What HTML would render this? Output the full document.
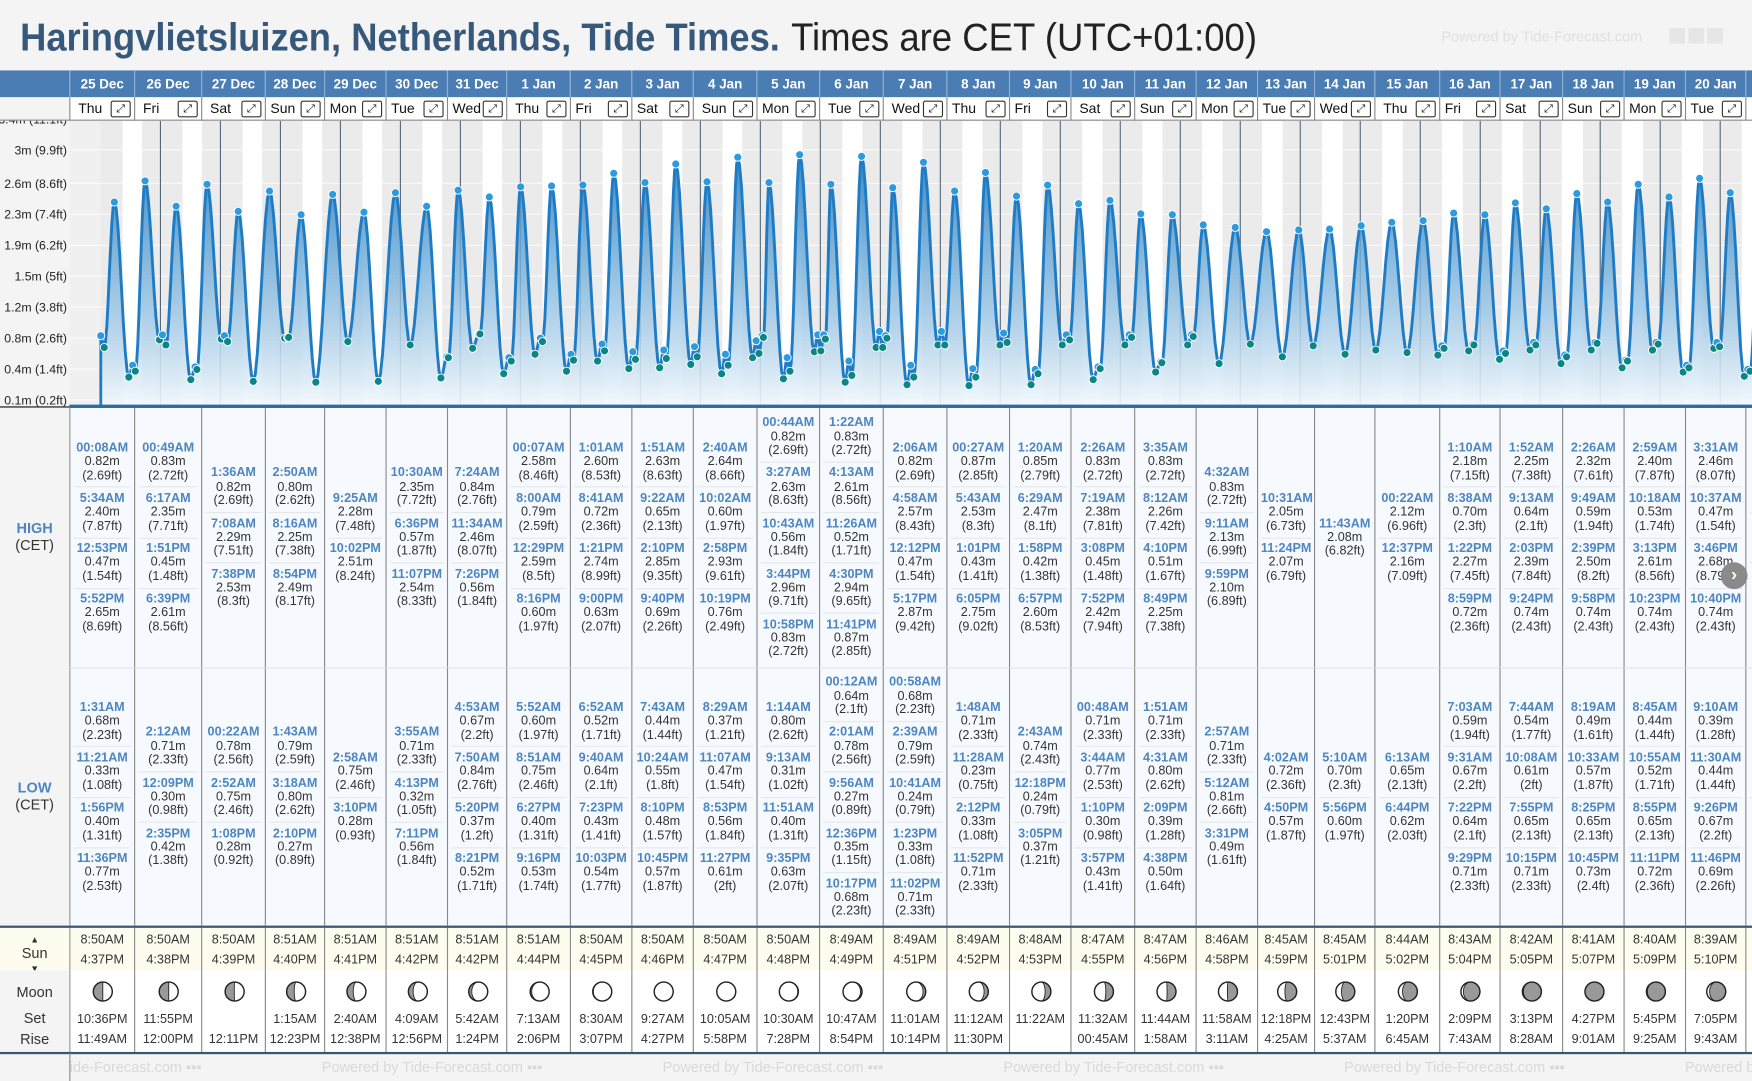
<!DOCTYPE html>
<html><head><meta charset="utf-8">
<style>
html,body{margin:0;padding:0;width:1752px;height:1081px;overflow:hidden;background:#f4f4f4;}
#frame{position:absolute;left:0;top:0;width:1568px;height:967px;transform-origin:0 0;transform:scale(1.117347,1.11789);background:#f4f4f4;overflow:hidden;font-family:"Liberation Sans",Arial,sans-serif;color:#333;}
.abs{position:absolute;}
.hdr{position:absolute;top:63px;height:24px;background:#4a7db3;color:#fff;font-weight:bold;font-size:12px;line-height:24px;text-align:center;box-sizing:border-box;border-left:1px solid #8fb0d3;}
.wd{position:absolute;top:87px;height:21px;background:#fff;font-size:12.5px;line-height:21px;box-sizing:border-box;border-left:1px solid #888;border-bottom:1px solid #888;color:#111;}
.exp{position:absolute;right:3px;top:3px;width:16px;height:13px;border:1px solid #333;border-radius:2px;font-size:10px;line-height:13px;text-align:center;font-family:"DejaVu Sans",sans-serif;background:#fff;}
.cell{position:absolute;box-sizing:border-box;border-left:1px solid #888;background:#f6fafe;display:flex;flex-direction:column;justify-content:center;align-items:center;}
.ent{text-align:center;font-size:11.3px;line-height:12.3px;padding:3.6px 0;width:90%;border-bottom:1px solid #e4e8ec;}
.ent:last-child{border-bottom:none;}
.tm{color:#4d86c2;font-weight:bold;}
.sun{position:absolute;top:830px;height:38px;box-sizing:border-box;border-left:1px solid #888;background:#fdfdef;font-size:11.3px;text-align:center;line-height:18px;padding-top:2px;}
.moon{position:absolute;top:868px;height:74px;box-sizing:border-box;border-left:1px solid #888;background:#fff;font-size:11.3px;text-align:center;}
.lbl{position:absolute;left:0;width:62px;text-align:center;font-size:13px;color:#333;}
.pw{position:absolute;top:947px;font-size:13px;color:#d9d9d9;white-space:nowrap;}
</style></head>
<body>
<div id="frame">
<svg class="abs" style="left:0;top:0" width="1568" height="62">
<text x="18" y="45" font-family="Liberation Sans, Arial, sans-serif" font-size="35" font-weight="bold" fill="#36587a" textLength="680" lengthAdjust="spacingAndGlyphs">Haringvlietsluizen, Netherlands, Tide Times.</text>
<text x="708" y="45" font-family="Liberation Sans, Arial, sans-serif" font-size="35" fill="#222" textLength="417" lengthAdjust="spacingAndGlyphs">Times are CET (UTC+01:00)</text>
<text x="1290" y="37" font-family="Liberation Sans, Arial, sans-serif" font-size="13" fill="#e0e0e0">Powered by Tide-Forecast.com</text>
<rect x="1494" y="25" width="14" height="14" fill="#e6e6e6"/><rect x="1511" y="25" width="14" height="14" fill="#e6e6e6"/><rect x="1528" y="25" width="14" height="14" fill="#e6e6e6"/>
</svg>
<div class="abs" style="left:0;top:63px;width:62px;height:24px;background:#4a7db3"></div>
<div class="abs" style="left:0;top:87px;width:62px;height:21px;background:#f4f4f4;border-bottom:1px solid #888;box-sizing:border-box"></div>
<svg id="chart" class="abs" style="left:0;top:108px" width="1568" height="257" viewBox="0 108 1568 257">
<defs><linearGradient id="ag" x1="0" y1="140" x2="0" y2="363" gradientUnits="userSpaceOnUse">
<stop offset="0" stop-color="#2f84c6" stop-opacity="0.95"/><stop offset="0.5" stop-color="#7fb6de" stop-opacity="0.8"/><stop offset="1" stop-color="#f2f8fd" stop-opacity="0.9"/></linearGradient>
<clipPath id="pc"><rect x="62" y="108" width="1506" height="257"/></clipPath></defs>
</svg>
<div id="tbl"></div>
</div>
<script>
// ---- data ----
const dayLabels=["25 Dec","26 Dec","27 Dec","28 Dec","29 Dec","30 Dec","31 Dec","1 Jan","2 Jan","3 Jan","4 Jan","5 Jan","6 Jan","7 Jan","8 Jan","9 Jan","10 Jan","11 Jan","12 Jan","13 Jan","14 Jan","15 Jan","16 Jan","17 Jan","18 Jan","19 Jan","20 Jan","21 Jan"];
const weekdays=["Thu","Fri","Sat","Sun","Mon","Tue","Wed","Thu","Fri","Sat","Sun","Mon","Tue","Wed","Thu","Fri","Sat","Sun","Mon","Tue","Wed","Thu","Fri","Sat","Sun","Mon","Tue","Wed"];
const highs=[
[0,"00:08AM",0.82,"2.69"],[0,"5:34AM",2.40,"7.87"],[0,"12:53PM",0.47,"1.54"],[0,"5:52PM",2.65,"8.69"],
[1,"00:49AM",0.83,"2.72"],[1,"6:17AM",2.35,"7.71"],[1,"1:51PM",0.45,"1.48"],[1,"6:39PM",2.61,"8.56"],
[2,"1:36AM",0.82,"2.69"],[2,"7:08AM",2.29,"7.51"],[2,"7:38PM",2.53,"8.3"],
[3,"2:50AM",0.80,"2.62"],[3,"8:16AM",2.25,"7.38"],[3,"8:54PM",2.49,"8.17"],
[4,"9:25AM",2.28,"7.48"],[4,"10:02PM",2.51,"8.24"],
[5,"10:30AM",2.35,"7.72"],[5,"6:36PM",0.57,"1.87"],[5,"11:07PM",2.54,"8.33"],
[6,"7:24AM",0.84,"2.76"],[6,"11:34AM",2.46,"8.07"],[6,"7:26PM",0.56,"1.84"],
[7,"00:07AM",2.58,"8.46"],[7,"8:00AM",0.79,"2.59"],[7,"12:29PM",2.59,"8.5"],[7,"8:16PM",0.60,"1.97"],
[8,"1:01AM",2.60,"8.53"],[8,"8:41AM",0.72,"2.36"],[8,"1:21PM",2.74,"8.99"],[8,"9:00PM",0.63,"2.07"],
[9,"1:51AM",2.63,"8.63"],[9,"9:22AM",0.65,"2.13"],[9,"2:10PM",2.85,"9.35"],[9,"9:40PM",0.69,"2.26"],
[10,"2:40AM",2.64,"8.66"],[10,"10:02AM",0.60,"1.97"],[10,"2:58PM",2.93,"9.61"],[10,"10:19PM",0.76,"2.49"],
[11,"00:44AM",0.82,"2.69"],[11,"3:27AM",2.63,"8.63"],[11,"10:43AM",0.56,"1.84"],[11,"3:44PM",2.96,"9.71"],[11,"10:58PM",0.83,"2.72"],
[12,"1:22AM",0.83,"2.72"],[12,"4:13AM",2.61,"8.56"],[12,"11:26AM",0.52,"1.71"],[12,"4:30PM",2.94,"9.65"],[12,"11:41PM",0.87,"2.85"],
[13,"2:06AM",0.82,"2.69"],[13,"4:58AM",2.57,"8.43"],[13,"12:12PM",0.47,"1.54"],[13,"5:17PM",2.87,"9.42"],
[14,"00:27AM",0.87,"2.85"],[14,"5:43AM",2.53,"8.3"],[14,"1:01PM",0.43,"1.41"],[14,"6:05PM",2.75,"9.02"],
[15,"1:20AM",0.85,"2.79"],[15,"6:29AM",2.47,"8.1"],[15,"1:58PM",0.42,"1.38"],[15,"6:57PM",2.60,"8.53"],
[16,"2:26AM",0.83,"2.72"],[16,"7:19AM",2.38,"7.81"],[16,"3:08PM",0.45,"1.48"],[16,"7:52PM",2.42,"7.94"],
[17,"3:35AM",0.83,"2.72"],[17,"8:12AM",2.26,"7.42"],[17,"4:10PM",0.51,"1.67"],[17,"8:49PM",2.25,"7.38"],
[18,"4:32AM",0.83,"2.72"],[18,"9:11AM",2.13,"6.99"],[18,"9:59PM",2.10,"6.89"],
[19,"10:31AM",2.05,"6.73"],[19,"11:24PM",2.07,"6.79"],
[20,"11:43AM",2.08,"6.82"],
[21,"00:22AM",2.12,"6.96"],[21,"12:37PM",2.16,"7.09"],
[22,"1:10AM",2.18,"7.15"],[22,"8:38AM",0.70,"2.3"],[22,"1:22PM",2.27,"7.45"],[22,"8:59PM",0.72,"2.36"],
[23,"1:52AM",2.25,"7.38"],[23,"9:13AM",0.64,"2.1"],[23,"2:03PM",2.39,"7.84"],[23,"9:24PM",0.74,"2.43"],
[24,"2:26AM",2.32,"7.61"],[24,"9:49AM",0.59,"1.94"],[24,"2:39PM",2.50,"8.2"],[24,"9:58PM",0.74,"2.43"],
[25,"2:59AM",2.40,"7.87"],[25,"10:18AM",0.53,"1.74"],[25,"3:13PM",2.61,"8.56"],[25,"10:23PM",0.74,"2.43"],
[26,"3:31AM",2.46,"8.07"],[26,"10:37AM",0.47,"1.54"],[26,"3:46PM",2.68,"8.79"],[26,"10:40PM",0.74,"2.43"],
[27,"4:02AM",2.51,"8.23"],[27,"11:02AM",0.42,"1.38"],[27,"4:20PM",2.72,"8.92"]
];
const lows=[
[0,"1:31AM",0.68,"2.23"],[0,"11:21AM",0.33,"1.08"],[0,"1:56PM",0.40,"1.31"],[0,"11:36PM",0.77,"2.53"],
[1,"2:12AM",0.71,"2.33"],[1,"12:09PM",0.30,"0.98"],[1,"2:35PM",0.42,"1.38"],
[2,"00:22AM",0.78,"2.56"],[2,"2:52AM",0.75,"2.46"],[2,"1:08PM",0.28,"0.92"],
[3,"1:43AM",0.79,"2.59"],[3,"3:18AM",0.80,"2.62"],[3,"2:10PM",0.27,"0.89"],
[4,"2:58AM",0.75,"2.46"],[4,"3:10PM",0.28,"0.93"],
[5,"3:55AM",0.71,"2.33"],[5,"4:13PM",0.32,"1.05"],[5,"7:11PM",0.56,"1.84"],
[6,"4:53AM",0.67,"2.2"],[6,"7:50AM",0.84,"2.76"],[6,"5:20PM",0.37,"1.2"],[6,"8:21PM",0.52,"1.71"],
[7,"5:52AM",0.60,"1.97"],[7,"8:51AM",0.75,"2.46"],[7,"6:27PM",0.40,"1.31"],[7,"9:16PM",0.53,"1.74"],
[8,"6:52AM",0.52,"1.71"],[8,"9:40AM",0.64,"2.1"],[8,"7:23PM",0.43,"1.41"],[8,"10:03PM",0.54,"1.77"],
[9,"7:43AM",0.44,"1.44"],[9,"10:24AM",0.55,"1.8"],[9,"8:10PM",0.48,"1.57"],[9,"10:45PM",0.57,"1.87"],
[10,"8:29AM",0.37,"1.21"],[10,"11:07AM",0.47,"1.54"],[10,"8:53PM",0.56,"1.84"],[10,"11:27PM",0.61,"2"],
[11,"1:14AM",0.80,"2.62"],[11,"9:13AM",0.31,"1.02"],[11,"11:51AM",0.40,"1.31"],[11,"9:35PM",0.63,"2.07"],
[12,"00:12AM",0.64,"2.1"],[12,"2:01AM",0.78,"2.56"],[12,"9:56AM",0.27,"0.89"],[12,"12:36PM",0.35,"1.15"],[12,"10:17PM",0.68,"2.23"],
[13,"00:58AM",0.68,"2.23"],[13,"2:39AM",0.79,"2.59"],[13,"10:41AM",0.24,"0.79"],[13,"1:23PM",0.33,"1.08"],[13,"11:02PM",0.71,"2.33"],
[14,"1:48AM",0.71,"2.33"],[14,"11:28AM",0.23,"0.75"],[14,"2:12PM",0.33,"1.08"],[14,"11:52PM",0.71,"2.33"],
[15,"2:43AM",0.74,"2.43"],[15,"12:18PM",0.24,"0.79"],[15,"3:05PM",0.37,"1.21"],
[16,"00:48AM",0.71,"2.33"],[16,"3:44AM",0.77,"2.53"],[16,"1:10PM",0.30,"0.98"],[16,"3:57PM",0.43,"1.41"],
[17,"1:51AM",0.71,"2.33"],[17,"4:31AM",0.80,"2.62"],[17,"2:09PM",0.39,"1.28"],[17,"4:38PM",0.50,"1.64"],
[18,"2:57AM",0.71,"2.33"],[18,"5:12AM",0.81,"2.66"],[18,"3:31PM",0.49,"1.61"],
[19,"4:02AM",0.72,"2.36"],[19,"4:50PM",0.57,"1.87"],
[20,"5:10AM",0.70,"2.3"],[20,"5:56PM",0.60,"1.97"],
[21,"6:13AM",0.65,"2.13"],[21,"6:44PM",0.62,"2.03"],
[22,"7:03AM",0.59,"1.94"],[22,"9:31AM",0.67,"2.2"],[22,"7:22PM",0.64,"2.1"],[22,"9:29PM",0.71,"2.33"],
[23,"7:44AM",0.54,"1.77"],[23,"10:08AM",0.61,"2"],[23,"7:55PM",0.65,"2.13"],[23,"10:15PM",0.71,"2.33"],
[24,"8:19AM",0.49,"1.61"],[24,"10:33AM",0.57,"1.87"],[24,"8:25PM",0.65,"2.13"],[24,"10:45PM",0.73,"2.4"],
[25,"8:45AM",0.44,"1.44"],[25,"10:55AM",0.52,"1.71"],[25,"8:55PM",0.65,"2.13"],[25,"11:11PM",0.72,"2.36"],
[26,"9:10AM",0.39,"1.28"],[26,"11:30AM",0.44,"1.44"],[26,"9:26PM",0.67,"2.2"],[26,"11:46PM",0.69,"2.26"],
[27,"9:38AM",0.34,"1.12"],[27,"11:57AM",0.40,"1.31"]
];
const sunrise=["8:50AM","8:50AM","8:50AM","8:51AM","8:51AM","8:51AM","8:51AM","8:51AM","8:50AM","8:50AM","8:50AM","8:50AM","8:49AM","8:49AM","8:49AM","8:48AM","8:47AM","8:47AM","8:46AM","8:45AM","8:45AM","8:44AM","8:43AM","8:42AM","8:41AM","8:40AM","8:39AM","8:38AM"];
const sunset=["4:37PM","4:38PM","4:39PM","4:40PM","4:41PM","4:42PM","4:42PM","4:44PM","4:45PM","4:46PM","4:47PM","4:48PM","4:49PM","4:51PM","4:52PM","4:53PM","4:55PM","4:56PM","4:58PM","4:59PM","5:01PM","5:02PM","5:04PM","5:05PM","5:07PM","5:09PM","5:10PM","5:12PM"];
const moonset=["10:36PM","11:55PM","","1:15AM","2:40AM","4:09AM","5:42AM","7:13AM","8:30AM","9:27AM","10:05AM","10:30AM","10:47AM","11:01AM","11:12AM","11:22AM","11:32AM","11:44AM","11:58AM","12:18PM","12:43PM","1:20PM","2:09PM","3:13PM","4:27PM","5:45PM","7:05PM",""];
const moonrise=["11:49AM","12:00PM","12:11PM","12:23PM","12:38PM","12:56PM","1:24PM","2:06PM","3:07PM","4:27PM","5:58PM","7:28PM","8:54PM","10:14PM","11:30PM","","00:45AM","1:58AM","3:11AM","4:25AM","5:37AM","6:45AM","7:43AM","8:28AM","9:01AM","9:25AM","9:43AM",""];
const moonDark=[0.5,0.5,0.48,0.4,0.33,0.25,0.16,0.08,0.03,0,0,0.03,0.08,0.14,0.22,0.3,0.4,0.47,0.53,0.62,0.7,0.78,0.87,0.95,1,0.95,0.85,0.75];
const tickM=["0.1m","0.4m","0.8m","1.2m","1.5m","1.9m","2.3m","2.6m","3m","3.4m"];
const tickFt=[0.2,1.4,2.6,3.8,5,6.2,7.4,8.6,9.9,11.1];

// ---- layout ----
const bounds=[62,120,180,237,290,345,400,453,510,565,620,677,733,790,847,903,958,1015,1070,1125,1176,1230,1288,1342,1398,1453,1508,1562,1620];
const X0=89.9, PXD=53.69;
function xOf(t){return X0+t*PXD;}
function yOfFt(ft){return 357.7-(ft-0.2)*23.06;}
function yOf(m){return yOfFt(m*3.28084);}
function parseT(s){const m=s.match(/(\d+):(\d+)(AM|PM)/);let h=(+m[1])%12;if(m[3]==="PM")h+=12;return h+(+m[2])/60;}
const NS="http://www.w3.org/2000/svg";
const svg=document.getElementById('chart');
const frame=document.getElementById('frame');
function sv(tag,attrs,parent){const e=document.createElementNS(NS,tag);for(const k in attrs)e.setAttribute(k,attrs[k]);(parent||svg).appendChild(e);return e;}

const g=sv('g',{'clip-path':'url(#pc)'});
const bgr=sv('rect',{x:62,y:108,width:1506,height:256,fill:'#f0f0f0'},g);


for(let d=0;d<dayLabels.length;d++){
  const sr=parseT(sunrise[d])/24, ss=parseT(sunset[d])/24;
  const n1=sv('rect',{x:xOf(d),y:108,width:sr*PXD,height:256,fill:'#ebebeb'},g);
  
  
  const dy=sv('rect',{x:xOf(d+sr),y:108,width:(ss-sr)*PXD,height:256,fill:'#ffffff'},g);
  
  
  const n2=sv('rect',{x:xOf(d+ss),y:108,width:(1-ss)*PXD,height:256,fill:'#ebebeb'},g);
  
  
}
for(let i=0;i<tickFt.length;i++){
  const gl=sv('line',{x1:62,x2:1568,y1:yOfFt(tickFt[i]),y2:yOfFt(tickFt[i]),stroke:'#ffffff','stroke-opacity':0.7,'stroke-width':1},g);
  
  
}
for(let d=1;d<dayLabels.length;d++){
  const ml=sv('line',{x1:xOf(d),x2:xOf(d),y1:108,y2:363,stroke:'#56677a','stroke-width':1},g);
  
  
}
const ev=[];
highs.forEach(h=>ev.push({t:h[0]+parseT(h[1])/24,v:h[2],hi:true}));
lows.forEach(l=>ev.push({t:l[0]+parseT(l[1])/24,v:l[2],hi:false}));
ev.sort((a,b)=>a.t-b.t);
let pts=[[xOf(ev[0].t),yOf(ev[0].v)]];
for(let i=0;i<ev.length-1;i++){
  const a=ev[i],b=ev[i+1];const n=8;
  for(let k=1;k<=n;k++){const s=k/n;const v=a.v+(b.v-a.v)*(1-Math.cos(Math.PI*s))/2;pts.push([xOf(a.t+(b.t-a.t)*s),yOf(v)]);}
}
const lineD='M'+pts.map(p=>p[0].toFixed(1)+','+p[1].toFixed(1)).join('L');
const areaD='M'+pts[0][0].toFixed(1)+',363L'+pts.map(p=>p[0].toFixed(1)+','+p[1].toFixed(1)).join('L')+'L'+pts[pts.length-1][0].toFixed(1)+',363Z';
const area=sv('path',{d:areaD,fill:'url(#ag)'},g);


const edge=sv('line',{x1:pts[0][0],x2:pts[0][0],y1:pts[0][1],y2:363,stroke:'#1f7cc4','stroke-width':2.5},g);


const ln=sv('path',{d:lineD,fill:'none',stroke:'#1f7cc4','stroke-width':2.6,'stroke-linejoin':'round'},g);


ev.forEach(e=>{
  const c=sv('circle',{cx:xOf(e.t),cy:yOf(e.v),r:3.6,fill:e.hi?'#2b9be0':'#0b8585',stroke:'#fff','stroke-width':0.8},g);
  
  
});
const base=sv('line',{x1:62,x2:1568,y1:363.5,y2:363.5,stroke:'#2e6da4','stroke-width':3});


const lblBg=sv('rect',{x:0,y:108,width:62,height:256,fill:'#f4f4f4'});


sv('line',{x1:0,x2:62,y1:364,y2:364,stroke:'#555','stroke-width':1.5});
for(let i=0;i<tickFt.length;i++){
  const tx=sv('text',{x:60,y:yOfFt(tickFt[i])+4,'text-anchor':'end','font-size':11,'font-family':'Liberation Sans, Arial, sans-serif',fill:'#222'});
  tx.textContent=tickM[i]+' ('+tickFt[i]+'ft)';
  
  
}

// ---- HTML tables ----
function div(cls,css,parent){const e=document.createElement('div');if(cls)e.className=cls;if(css)e.style.cssText=css;(parent||frame).appendChild(e);return e;}
for(let d=0;d<dayLabels.length;d++){
  const L=bounds[d],W=bounds[d+1]-bounds[d];
  const h=div('hdr','left:'+L+'px;width:'+W+'px');h.textContent=dayLabels[d];
  
  
  const w=div('wd','left:'+L+'px;width:'+W+'px;padding-left:'+(W>56?7:4)+'px');w.textContent=weekdays[d];
  
  
  const ex=div('exp','',w);ex.textContent='⤢';
  
  
  [[highs,365,232,'high-tides-cell'],[lows,597,231,'low-tides-cell']].forEach(([arr,top,ht,nm])=>{
    const c=div('cell','left:'+L+'px;width:'+W+'px;top:'+top+'px;height:'+ht+'px;'+(top===597?'border-top:1px solid #e2e6ea;':''));
    
    
    arr.filter(a=>a[0]===d).forEach(a=>{
      const e=div('ent','',c);
      e.innerHTML='<div class="tm">'+a[1]+'</div><div>'+a[2].toFixed(2)+'m</div><div>('+a[3]+'ft)</div>';
      
      
    });
  });
  const s=div('sun','left:'+L+'px;width:'+W+'px');s.innerHTML=sunrise[d]+'<br>'+sunset[d];
  
  
  const m=div('moon','left:'+L+'px;width:'+W+'px');
  
  
  const f=moonDark[d],r=8.5,cx=11,cy=11;const waxing=d<10;
  let p='';
  if(f>0.01){
    const rx=Math.abs(1-2*f)*r;
    if(waxing){p='M'+cx+','+(cy-r)+'A'+r+','+r+' 0 0 0 '+cx+','+(cy+r)+'A'+rx+','+r+' 0 0 '+(f<0.5?1:0)+' '+cx+','+(cy-r)+'Z';}
    else{p='M'+cx+','+(cy-r)+'A'+r+','+r+' 0 0 1 '+cx+','+(cy+r)+'A'+rx+','+r+' 0 0 '+(f<0.5?0:1)+' '+cx+','+(cy-r)+'Z';}
  }
  const ic=document.createElementNS(NS,'svg');ic.setAttribute('width',22);ic.setAttribute('height',22);
  ic.style.cssText='position:absolute;left:'+(W/2-11)+'px;top:8px';
  ic.innerHTML='<circle cx="11" cy="11" r="8.5" fill="#fff"/>'+(p?'<path d="'+p+'" fill="#999" stroke="#222" stroke-width="0.8"/>':'')+'<circle cx="11" cy="11" r="8.5" fill="none" stroke="#222" stroke-width="1.3"/>';
  
  
  m.appendChild(ic);
  const ms=div('','position:absolute;left:0;width:100%;top:35px;line-height:18px',m);ms.innerHTML=(moonset[d]||'&nbsp;')+'<br>'+(moonrise[d]||'&nbsp;');
  
  
}
const lb=div('','position:absolute;left:0;top:365px;width:62px;height:463px;background:#f4f4f4');


const hl=div('lbl','top:465px;line-height:15px');hl.innerHTML='<b style="color:#4d86c2">HIGH</b><br>(CET)';


const ll=div('lbl','top:697px;line-height:15px');ll.innerHTML='<b style="color:#4d86c2">LOW</b><br>(CET)';


const sl=div('lbl','top:830px;height:38px;background:#fdfdef;line-height:10px;padding-top:4px;box-sizing:border-box');sl.innerHTML='<span style="font-size:8px">▲</span><br><span style="line-height:14px">Sun</span><br><span style="font-size:8px">▼</span>';


const mlb=div('lbl','top:868px;height:74px;background:#f4f4f4;padding-top:9px;box-sizing:border-box');mlb.innerHTML='<div style="line-height:22px">Moon</div><div style="line-height:20px;margin-top:2px">Set</div><div style="line-height:18px">Rise</div>';


const l1=div('','position:absolute;left:0;top:828px;width:1568px;height:2px;background:#3b5670');


const l2=div('','position:absolute;left:0;top:941px;width:1568px;height:1.5px;background:#3b5670');


const ft=div('','position:absolute;left:62px;top:942px;width:1506px;height:25px;overflow:hidden;border-left:1px solid #888');


[-80,225,530,835,1140,1445].forEach(x=>{const p=div('pw','left:'+x+'px;top:5px',ft);p.textContent='Powered by Tide-Forecast.com ▪▪▪';
  
  });
const nx=div('','position:absolute;left:1540px;top:503px;width:24px;height:24px;border-radius:12px;background:#8a8a8a;color:#fff;font-size:16px;line-height:24px;text-align:center;font-weight:bold');nx.textContent='›';


</script>
</body></html>
